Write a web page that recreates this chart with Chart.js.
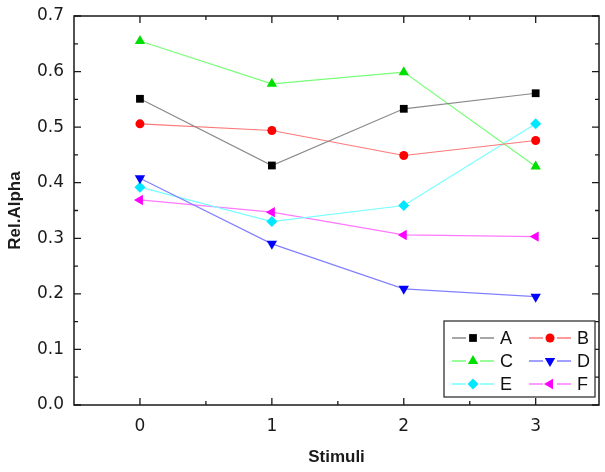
<!DOCTYPE html>
<html><head><meta charset="utf-8">
<script src="https://cdn.jsdelivr.net/npm/chart.js@4.4.0/dist/chart.umd.min.js"></script>
<style>html,body{margin:0;padding:0;background:#fff}#wrap{width:605px;height:472px}</style>
</head><body><div id="wrap"><canvas id="c" width="605" height="472"></canvas></div>
<script>
const stimuli = [0, 1, 2, 3];
const seriesA = [0.551, 0.431, 0.533, 0.561];
const seriesB = [0.506, 0.494, 0.449, 0.476];
const seriesC = [0.655, 0.578, 0.599, 0.429];
const seriesD = [0.408, 0.290, 0.209, 0.195];
const seriesE = [0.392, 0.330, 0.359, 0.506];
const seriesF = [0.369, 0.347, 0.306, 0.303];
const seriesNames = ['A', 'B', 'C', 'D', 'E', 'F'];
const xTickValues = [0, 1, 2, 3];
const yTickValues = [0, 0.1, 0.2, 0.3, 0.4, 0.5, 0.6, 0.7];

const styles = [
  {line: '#8a8a8a', fill: '#000000', ps: 'rect', r: 5.5, rot: 0},
  {line: '#ff7878', fill: '#ff0000', ps: 'circle', r: 4.5, rot: 0},
  {line: '#78ff78', fill: '#00e000', ps: 'triangle', r: 6, rot: 0},
  {line: '#8080ff', fill: '#0000ff', ps: 'triangle', r: 6, rot: 180},
  {line: '#78ffff', fill: '#00e8ff', ps: 'rectRot', r: 5.5, rot: 0},
  {line: '#ff78ff', fill: '#ff00ff', ps: 'triangle', r: 6, rot: -90}
];
const allSeries = [seriesA, seriesB, seriesC, seriesD, seriesE, seriesF];

const datasets = allSeries.map((s, i) => ({
  label: seriesNames[i],
  data: s.map((v, j) => ({x: stimuli[j], y: v})),
  borderColor: styles[i].line,
  borderWidth: 1.2,
  backgroundColor: styles[i].fill,
  pointBackgroundColor: styles[i].fill,
  pointBorderColor: styles[i].fill,
  pointBorderWidth: 0,
  pointStyle: styles[i].ps,
  pointRadius: styles[i].r,
  pointRotation: styles[i].rot,
  tension: 0,
  fill: false
}));

function drawMarker(ctx, st, x, y) {
  if (Chart.helpers && Chart.helpers.drawPoint) {
    ctx.save();
    ctx.fillStyle = st.fill; ctx.strokeStyle = st.fill; ctx.lineWidth = 0.01;
    Chart.helpers.drawPoint(ctx, {pointStyle: st.ps, radius: st.r, rotation: st.rot, borderWidth: 0}, x, y);
    ctx.restore();
  }
}

const framePlugin = {
  id: 'frame',
  beforeDatasetsDraw(chart) {
    const {ctx, chartArea: a, scales: {x, y}} = chart;
    ctx.save();
    ctx.strokeStyle = '#1a1a1a';
    ctx.lineWidth = 1.5;
    ctx.strokeRect(a.left, a.top, a.right - a.left, a.bottom - a.top);
    ctx.lineWidth = 1.3;
    ctx.beginPath();
    const xMinor = [0.5, 1.5, 2.5];
    xTickValues.forEach(v => { const p = x.getPixelForValue(v);
      ctx.moveTo(p, a.bottom); ctx.lineTo(p, a.bottom - 7);
      ctx.moveTo(p, a.top); ctx.lineTo(p, a.top + 7); });
    xMinor.forEach(v => { const p = x.getPixelForValue(v);
      ctx.moveTo(p, a.bottom); ctx.lineTo(p, a.bottom - 4);
      ctx.moveTo(p, a.top); ctx.lineTo(p, a.top + 4); });
    yTickValues.forEach(v => { const p = y.getPixelForValue(v);
      ctx.moveTo(a.left, p); ctx.lineTo(a.left + 7, p);
      ctx.moveTo(a.right, p); ctx.lineTo(a.right - 7, p); });
    for (let k = 0; k < yTickValues.length - 1; k++) {
      const p = y.getPixelForValue(yTickValues[k] + 0.05);
      ctx.moveTo(a.left, p); ctx.lineTo(a.left + 4, p);
      ctx.moveTo(a.right, p); ctx.lineTo(a.right - 4, p);
    }
    ctx.stroke();
    ctx.restore();
  },
  afterDraw(chart) {
    const {ctx, chartArea: a} = chart;
    const bw = 151, bh = 76;
    const bx = a.right - 4 - bw, by = a.bottom - 8 - bh;
    ctx.save();
    ctx.fillStyle = '#ffffff';
    ctx.fillRect(bx, by, bw, bh);
    ctx.strokeStyle = '#333333';
    ctx.lineWidth = 1.3;
    ctx.strokeRect(bx, by, bw, bh);
    ctx.font = '18px "Liberation Sans", Arial, sans-serif';
    ctx.textBaseline = 'middle';
    ctx.fillStyle = '#111';
    seriesNames.forEach((name, i) => {
      const col = i % 2, row = Math.floor(i / 2);
      const lx = bx + 8 + col * 77;
      const ly = by + 17 + row * 23;
      ctx.strokeStyle = styles[i].line;
      ctx.lineWidth = 1.5;
      ctx.beginPath(); ctx.moveTo(lx, ly); ctx.lineTo(lx + 42, ly); ctx.stroke();
      ctx.fillStyle = '#ffffff';
      ctx.fillRect(lx + 14, ly - 6, 14, 12);
      drawMarker(ctx, styles[i], lx + 21, ly);
      ctx.fillStyle = '#111';
      ctx.fillText(name, lx + 48, ly + 1);
    });
    ctx.restore();
  }
};

new Chart(document.getElementById('c'), {
  type: 'line',
  data: {datasets},
  options: {
    responsive: false,
    animation: false,
    devicePixelRatio: 1,
    layout: {padding: {left: 0, right: 3, top: 16, bottom: 0}},
    plugins: {legend: {display: false}, tooltip: {enabled: false}},
    scales: {
      x: {
        type: 'linear', min: -0.5, max: 3.48,
        afterBuildTicks: s => { s.ticks = xTickValues.map(v => ({value: v})); },
        afterFit: s => { s.height = 67; s.paddingLeft = 0; s.paddingRight = 0; },
        grid: {display: false, drawTicks: false},
        border: {display: false},
        ticks: {color: '#1a1a1a', padding: 11, font: {family: '"DejaVu Sans", sans-serif', size: 17}, callback: v => String(v)},
        title: {display: true, text: 'Stimuli', color: '#1a1a1a', padding: {top: 0, bottom: 4}, font: {family: '"Liberation Sans", Arial, sans-serif', size: 17, weight: 'bold'}}
      },
      y: {
        type: 'linear', min: 0, max: 0.7,
        afterBuildTicks: s => { s.ticks = yTickValues.map(v => ({value: v})); },
        afterFit: s => { s.width = 74; s.paddingTop = 0; s.paddingBottom = 0; },
        grid: {display: false, drawTicks: false},
        border: {display: false},
        ticks: {color: '#1a1a1a', padding: 10, font: {family: '"DejaVu Sans", sans-serif', size: 17}, callback: v => Number(v).toFixed(1)},
        title: {display: true, text: 'Rel.Alpha', color: '#1a1a1a', padding: {top: 5, bottom: 0}, font: {family: '"Liberation Sans", Arial, sans-serif', size: 17, weight: 'bold'}}
      }
    }
  },
  plugins: [framePlugin]
});
</script></body></html>
